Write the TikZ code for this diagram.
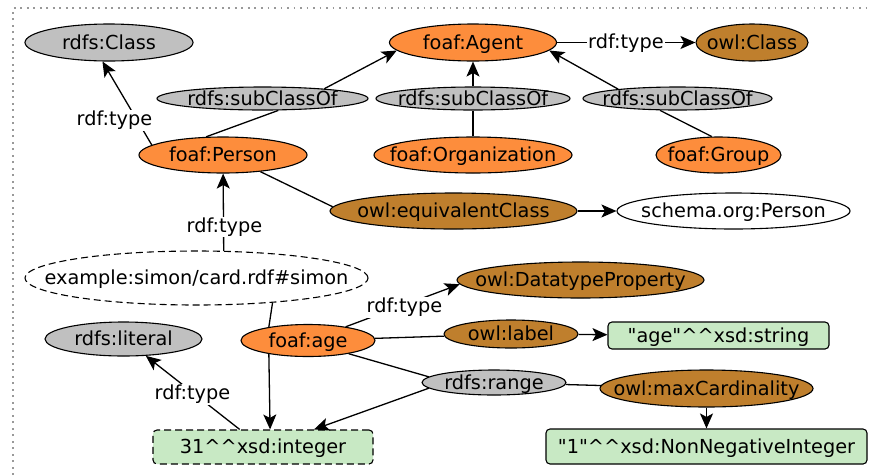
\documentclass[tikz,border=0pt]{standalone}
\usepackage{fontspec}
\setmainfont{DejaVu Sans}[Ligatures=TeXOff]
\usetikzlibrary{arrows.meta,shapes.geometric}
\definecolor{foaforange}{RGB}{253,141,60}
\definecolor{owlbrown}{RGB}{191,127,45}
\definecolor{rdfsgray}{RGB}{192,192,192}
\definecolor{litgreen}{RGB}{200,233,196}
\newcommand{\tx}[1]{\makebox[0pt]{\raisebox{-0.36em}[0pt][0pt]{#1}}}
\newcommand{\dcaret}{\textasciicircum\textasciicircum}

\begin{document}
\begin{tikzpicture}[x=1pt, y=-1pt, font=\fontsize{19.3}{23}\selectfont]
\tikzstyle{term} = [ellipse, draw = black, line width = 1.1pt, inner sep = 0pt]
\tikzstyle{foaf} = [term, fill = foaforange]
\tikzstyle{owl} = [term, fill = owlbrown]
\tikzstyle{rdfs} = [term, fill = rdfsgray]
\tikzstyle{res} = [term, fill = white]
\tikzstyle{lit} = [rectangle, rounded corners = 4pt, draw = black, line width = 1.1pt, fill = litgreen, inner sep = 0pt]
\tikzstyle{edge} = [-{Stealth[length = 15pt, width = 13pt, inset = 3.5pt]}, line width = 1.3pt]
\tikzstyle{link} = [line width = 1.3pt]
\tikzstyle{typelabel} = [fill = white, inner sep = 1pt]
\useasboundingbox (0, 0) rectangle (871, 475);
\draw[gray!80, line width = 1.6pt, dash pattern = on 1.6pt off 4.9pt] (13, 475) -- (13, 8) -- (871, 8);
\node[rdfs, minimum width = 168pt, minimum height = 37pt] (rdfsclass) at (109, 42.5) {\tx{rdfs:Class}};
\node[foaf, minimum width = 167pt, minimum height = 37pt] (agent) at (473, 42.5) {\tx{foaf:Agent}};
\node[owl, minimum width = 112pt, minimum height = 37pt] (owlclass) at (752, 42.5) {\tx{owl:Class}};
\node[rdfs, minimum width = 211pt, minimum height = 23pt] (sca) at (262.5, 98.5) {\tx{rdfs:subClassOf}};
\node[rdfs, minimum width = 194pt, minimum height = 23pt] (scb) at (473, 98.5) {\tx{rdfs:subClassOf}};
\node[rdfs, minimum width = 189pt, minimum height = 23pt] (scc) at (677.5, 98.5) {\tx{rdfs:subClassOf}};
\node[foaf, minimum width = 168pt, minimum height = 36pt] (person) at (223, 155) {\tx{foaf:Person}};
\node[foaf, minimum width = 198pt, minimum height = 36pt] (org) at (473, 155) {\tx{foaf:Organization}};
\node[foaf, minimum width = 125pt, minimum height = 36pt] (group) at (718.5, 155) {\tx{foaf:Group}};
\node[owl, minimum width = 247pt, minimum height = 36pt] (equiv) at (453.5, 211) {\tx{owl:equivalentClass}};
\node[res, minimum width = 233pt, minimum height = 36pt] (schema) at (733.5, 211) {\tx{schema.org:Person}};
\node[res, dashed, dash pattern = on 7pt off 4pt, minimum width = 343pt, minimum height = 54pt] (simon) at (196.5, 278) {\tx{example:simon/card.rdf\#simon}};
\node[rdfs, minimum width = 157pt, minimum height = 34pt] (literal) at (123.5, 339) {\tx{rdfs:literal}};
\node[foaf, minimum width = 134pt, minimum height = 32pt] (age) at (308, 340.5) {\tx{foaf:age}};
\node[owl, minimum width = 247pt, minimum height = 36pt] (dtprop) at (580.5, 280) {\tx{owl:DatatypeProperty}};
\node[owl, minimum width = 134pt, minimum height = 28pt] (olabel) at (511, 334) {\tx{owl:label}};
\node[lit, minimum width = 221pt, minimum height = 27pt] (agestr) at (718.5, 335.5) {\tx{"age"\dcaret xsd:string}};
\node[rdfs, minimum width = 144pt, minimum height = 25pt] (range) at (494, 382.5) {\tx{rdfs:range}};
\node[owl, minimum width = 213pt, minimum height = 37pt] (maxcard) at (706.5, 388.5) {\tx{owl:maxCardinality}};
\node[lit, minimum width = 321pt, minimum height = 35pt] (one) at (706.5, 446.5) {\tx{"1"\dcaret xsd:NonNegativeInteger}};
\node[lit, dashed, dash pattern = on 7pt off 4pt, minimum width = 220pt, minimum height = 34pt] (integer) at (263, 447) {\tx{31\dcaret xsd:integer}};
\draw[edge] (person.172) -- (rdfsclass.251);
\draw[link] (person.133) -- (sca.-37);
\draw[edge] (sca.9) -- (agent.186);
\draw[link] (org) -- (scb);
\draw[edge] (scb) -- (agent);
\draw[link] (group.110) -- (scc.214);
\draw[edge] (scc.171) -- (agent.-6);
\draw[edge] (agent) -- (owlclass);
\draw[link] (person.-24) -- (equiv.178);
\draw[edge] (equiv) -- (schema);
\draw[edge] (simon.45) -- (person);
\draw[link] (simon.-18) -- (age.161);
\draw[edge] (age.199) -- (integer.68);
\draw[edge] (age.20) -- (dtprop.182);
\draw[link] (age) -- (olabel);
\draw[edge] (olabel) -- (agestr);
\draw[link] (age.-18) -- (range.175);
\draw[edge] (range.185) -- (integer.19);
\draw[link] (range) -- (maxcard);
\draw[edge] (maxcard) -- (one);
\draw[edge] (integer.143) -- (literal.-37);
\node[typelabel] (tpclass) at (114.5, 120.5) {rdf:type};
\node[typelabel] (tpagent) at (626, 43) {rdf:type};
\node[typelabel] (tpsimon) at (224.5, 227) {rdf:type};
\node[typelabel] (tpage) at (404.5, 307.5) {rdf:type};
\node[typelabel] (tpint) at (192.5, 394.5) {rdf:type};
\end{tikzpicture}
\end{document}
